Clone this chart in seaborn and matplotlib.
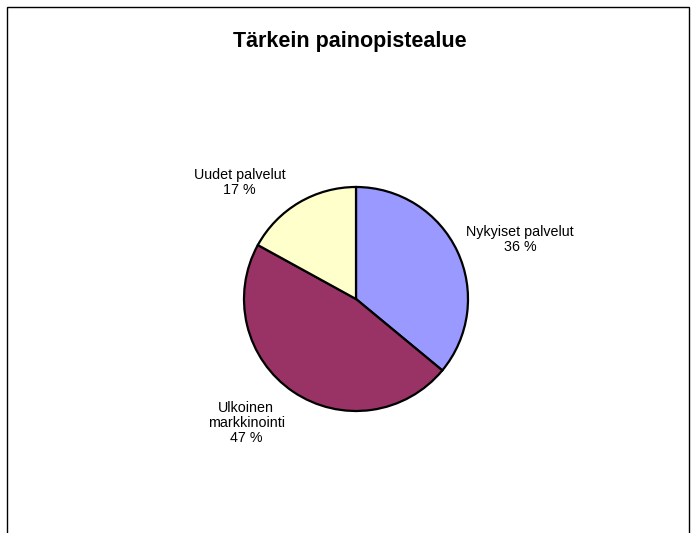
import numpy as np
import matplotlib
matplotlib.use("Agg")
import matplotlib.pyplot as plt
import seaborn as sns
from matplotlib.patches import Rectangle

# data
categories = ["Nykyiset palvelut", "Ulkoinen\nmarkkinointi", "Uudet palvelut"]
shares = [36, 47, 17]
colors = ["#9999FF", "#993366", "#FFFFCC"]
title = "Tärkein painopistealue"

sns.set_theme(style="white")
plt.rcParams['font.family'] = ['Liberation Sans', 'DejaVu Sans']

fig = plt.figure(figsize=(6.97, 5.33), dpi=100)
# pie center ~ (356, 299) px, radius ~112 px
ax = fig.add_axes([132 / 697, 10 / 533, 448 / 697, 448 / 533])

labels = [f"{c}\n{s} %" for c, s in zip(categories, shares)]
wedges, texts = ax.pie(shares, colors=colors, startangle=90, counterclock=False,
                       labels=labels, labeldistance=1.47,
                       wedgeprops=dict(edgecolor="black", linewidth=1.6),
                       textprops=dict(fontsize=10.3, color="black"))

# Excel-like label placement (distance in radii, angle in degrees)
label_place = [(1.56, 20), (1.48, -131.5), (1.47, 135)]
for t, (d, a) in zip(texts, label_place):
    t.set_position((d * np.cos(np.radians(a)), d * np.sin(np.radians(a))))
    t.set_ha("center")
    t.set_va("center")
    t.set_linespacing(1.12)
ax.set_xlim(-2, 2)
ax.set_ylim(-2, 2)
ax.set_aspect("equal")
ax.axis("off")

fig.text(350 / 697, 1 - 41 / 533, title, ha="center", va="center",
         fontsize=15.5, fontweight="bold", color="black")

# chart frame (bottom edge runs off the image)
fig.patches.append(Rectangle((7 / 697, -0.05), 682 / 697, 1.05 - 7 / 533,
                             transform=fig.transFigure, fill=False,
                             edgecolor="black", linewidth=1.0))

fig.savefig("out.png", dpi=100)
